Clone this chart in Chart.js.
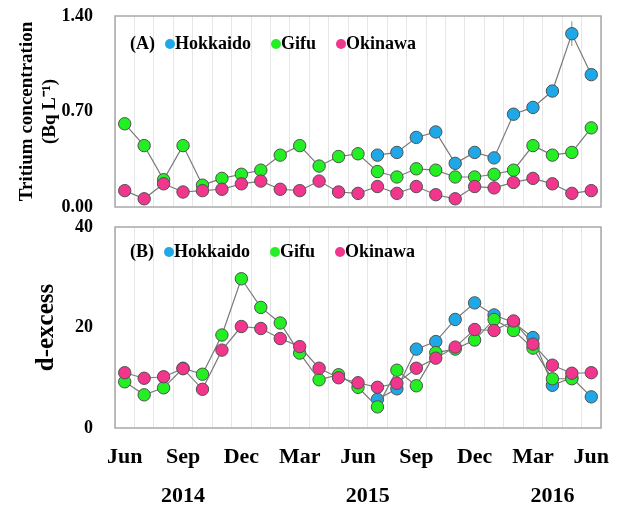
<!DOCTYPE html>
<html>
<head>
<meta charset="utf-8">
<script src="https://cdn.jsdelivr.net/npm/chart.js@4.4.0/dist/chart.umd.min.js"></script>
<style>
  html, body { margin: 0; padding: 0; background: #fff; }
  #panelA { position: absolute; left: 0; top: 0; }
  #panelB { position: absolute; left: 0; top: 215px; }
</style>
</head>
<body>
<canvas id="panelA" width="619" height="215"></canvas>
<canvas id="panelB" width="619" height="292"></canvas>
<script>
// Monthly samples, Jun 2014 - Jun 2016
const months = ['Jun', 'Jul', 'Aug', 'Sep', 'Oct', 'Nov', 'Dec', 'Jan', 'Feb', 'Mar', 'Apr', 'May',
  'Jun', 'Jul', 'Aug', 'Sep', 'Oct', 'Nov', 'Dec', 'Jan', 'Feb', 'Mar', 'Apr', 'May', 'Jun'];
const years = ['2014', '2015', '2016'];

const tritiumTicks = [0, 0.70, 1.40];
const dexcessTicks = [0, 20, 40];

// (A) tritium, Bq/L
const tritiumHokkaido = [null, null, null, null, null, null, null, null, null, null, null, null, null,
  0.38, 0.40, 0.51, 0.55, 0.32, 0.40, 0.36, 0.68, 0.73, 0.85, 1.27, 0.97];
const tritiumHokkaidoErr = [null, null, null, null, null, null, null, null, null, null, null, null, null,
  null, null, null, null, null, null, null, null, null, null, 0.09, null];
const tritiumGifu = [0.61, 0.45, 0.20, 0.45, 0.16, 0.21, 0.24, 0.27, 0.38, 0.45, 0.30, 0.37, 0.39,
  0.26, 0.22, 0.28, 0.27, 0.22, 0.22, 0.24, 0.27, 0.45, 0.38, 0.40, 0.58];
const tritiumOkinawa = [0.12, 0.06, 0.17, 0.11, 0.12, 0.13, 0.17, 0.19, 0.13, 0.12, 0.19, 0.11, 0.10,
  0.15, 0.10, 0.15, 0.09, 0.06, 0.15, 0.14, 0.18, 0.21, 0.17, 0.10, 0.12];

// (B) d-excess
const dexHokkaido = [null, null, null, null, null, null, null, null, null, null, null, null, null,
  5.7, 7.8, 15.7, 17.2, 21.6, 24.9, 22.5, 21.0, 18.0, 8.5, 10.0, 6.2];
const dexGifu = [9.2, 6.6, 8.0, 11.9, 10.7, 18.5, 29.7, 24.0, 20.9, 14.9, 9.6, 10.6, 8.1,
  4.2, 11.5, 8.4, 15.0, 15.7, 17.5, 21.6, 19.4, 15.9, 9.8, 9.8, null];
const dexOkinawa = [11.0, 9.9, 10.2, 11.8, 7.7, 15.5, 20.2, 19.8, 17.8, 16.2, 11.9, 10.0, 9.0,
  8.1, 8.9, 11.9, 13.9, 16.1, 19.6, 19.4, 21.3, 16.7, 12.5, 10.9, 11.0];

const SERIF = '"Liberation Serif", "Times New Roman", serif';
const colors = { Hokkaido: '#1ea8e8', Gifu: '#22f022', Okinawa: '#f2358d' };

function series(label, data, order, extra) {
  return Object.assign({
    label: label,
    data: data,
    order: order,
    borderColor: '#7a7a7a',
    borderWidth: 1.2,
    backgroundColor: colors[label],
    pointBackgroundColor: colors[label],
    pointBorderColor: '#505050',
    pointBorderWidth: 1,
    pointRadius: 6.2,
    tension: 0,
    spanGaps: false
  }, extra || {});
}

// grey frame round the plot area
const frame = {
  id: 'frame',
  beforeDatasetsDraw(chart) {
    const { ctx, chartArea: a } = chart;
    ctx.save();
    ctx.strokeStyle = '#a8a8a8';
    ctx.lineWidth = 1.5;
    ctx.strokeRect(a.left, a.top, a.right - a.left, a.bottom - a.top);
    ctx.restore();
  }
};

// vertical error bars for datasets carrying an errors array
const errorBars = {
  id: 'errorBars',
  beforeDatasetsDraw(chart) {
    const { ctx } = chart;
    const xs = chart.scales.x, ys = chart.scales.y;
    ctx.save();
    ctx.strokeStyle = '#8a8a8a';
    ctx.lineWidth = 1;
    chart.data.datasets.forEach(ds => {
      if (!ds.errors) return;
      ds.errors.forEach((e, i) => {
        if (e == null || ds.data[i] == null) return;
        const x = xs.getPixelForValue(i);
        ctx.beginPath();
        ctx.moveTo(x, ys.getPixelForValue(ds.data[i] - e));
        ctx.lineTo(x, ys.getPixelForValue(ds.data[i] + e));
        ctx.stroke();
      });
    });
    ctx.restore();
  }
};

// "(A) o Hokkaido o Gifu o Okinawa" row inside the plot
const panelLegend = {
  id: 'panelLegend',
  afterDraw(chart, args, opts) {
    const { ctx, chartArea: a } = chart;
    ctx.save();
    ctx.font = 'bold 18px ' + SERIF;
    ctx.textBaseline = 'middle';
    ctx.fillStyle = '#000';
    const y = a.top + opts.top;
    let x = a.left + 15;
    ctx.fillText(opts.tag, x, y);
    x += ctx.measureText(opts.tag).width + 10;
    chart.data.datasets.forEach(ds => {
      ctx.beginPath();
      ctx.arc(x + 5, y, 5, 0, Math.PI * 2);
      ctx.fillStyle = ds.backgroundColor;
      ctx.fill();
      ctx.fillStyle = '#000';
      ctx.fillText(ds.label, x + 10, y);
      x += 10 + ctx.measureText(ds.label).width + 20;
    });
    ctx.restore();
  }
};

// year row under the month ticks
const yearRow = {
  id: 'yearRow',
  afterDraw(chart) {
    const { ctx, chartArea: a } = chart;
    const xs = chart.scales.x;
    const anchors = [3, 12.5, 22];
    ctx.save();
    ctx.font = 'bold 22px ' + SERIF;
    ctx.textAlign = 'center';
    ctx.textBaseline = 'middle';
    ctx.fillStyle = '#000';
    years.forEach((yr, k) => {
      const i = Math.floor(anchors[k]);
      const f = anchors[k] - i;
      const x = xs.getPixelForValue(i) + f * (xs.getPixelForValue(i + 1) - xs.getPixelForValue(i));
      ctx.fillText(yr, x, a.bottom + 68);
    });
    ctx.restore();
  }
};

function xScale(showLabels) {
  return {
    type: 'category',
    offset: true,
    border: { display: false },
    grid: { offset: true, color: '#e6e6e6', lineWidth: 1, drawTicks: false },
    ticks: {
      display: showLabels,
      autoSkip: false,
      maxRotation: 0,
      padding: 16,
      color: '#000',
      font: { family: SERIF, size: 22, weight: 'bold' },
      callback: (v, i) => (i % 3 === 0 ? months[i] : '')
    },
    // fixed height, and no extra side padding for the end labels
    afterFit: s => {
      s.height = showLabels ? 42 : 0;
      s.paddingLeft = 0;
      s.paddingRight = 0;
    }
  };
}

function yScale(max, ticks, fmt, title, titleSize, titlePad) {
  return {
    min: 0,
    max: max,
    border: { display: false },
    grid: { display: false, drawTicks: false },
    ticks: {
      padding: 22,
      color: '#000',
      font: { family: SERIF, size: 18, weight: 'bold' },
      callback: v => fmt(v)
    },
    afterBuildTicks: s => { s.ticks = ticks.map(v => ({ value: v })); },
    afterFit: s => {
      s.width = 115;
      s.paddingTop = 0;
      s.paddingBottom = 0;
    },
    title: {
      display: true,
      text: title,
      color: '#000',
      font: { family: SERIF, size: titleSize, weight: 'bold', lineHeight: 1.2 },
      padding: { top: titlePad, bottom: 0 }
    }
  };
}

const common = {
  responsive: false,
  animation: false,
  devicePixelRatio: 1,
  plugins: { legend: { display: false }, tooltip: { enabled: false } }
};

new Chart(document.getElementById('panelA'), {
  type: 'line',
  data: {
    labels: months,
    datasets: [
      series('Hokkaido', tritiumHokkaido, 3, { errors: tritiumHokkaidoErr }),
      series('Gifu', tritiumGifu, 2),
      series('Okinawa', tritiumOkinawa, 1)
    ]
  },
  options: Object.assign({}, common, {
    layout: { padding: { left: 0, right: 18, top: 16, bottom: 8 } },
    scales: {
      x: xScale(false),
      y: yScale(1.4, tritiumTicks, v => v.toFixed(2),
        ['Tritium concentration', '(Bq L\u207B\u00B9)'], 19, 16)
    },
    plugins: Object.assign({}, common.plugins, { panelLegend: { tag: '(A)', top: 28 } })
  }),
  plugins: [frame, errorBars, panelLegend]
});

new Chart(document.getElementById('panelB'), {
  type: 'line',
  data: {
    labels: months,
    datasets: [
      series('Hokkaido', dexHokkaido, 3),
      series('Gifu', dexGifu, 2),
      series('Okinawa', dexOkinawa, 1)
    ]
  },
  options: Object.assign({}, common, {
    layout: { padding: { left: 0, right: 18, top: 12, bottom: 37 } },
    scales: {
      x: xScale(true),
      y: yScale(40, dexcessTicks, v => String(v), 'd-excess', 25, 32)
    },
    plugins: Object.assign({}, common.plugins, { panelLegend: { tag: '(B)', top: 25 } })
  }),
  plugins: [frame, panelLegend, yearRow]
});
</script>
</body>
</html>
